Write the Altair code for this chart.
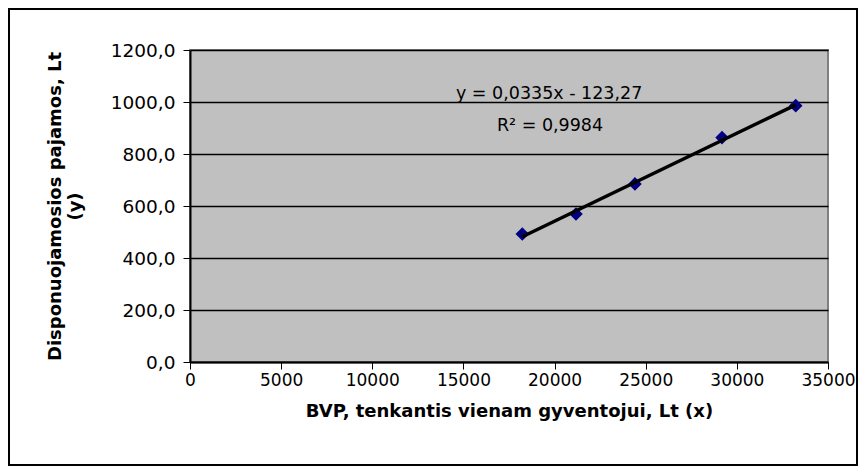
import altair as alt
import pandas as pd

# data
bvp = [18230, 21175, 24410, 29185, 33230]
pajamos = [492.0, 569.0, 685.0, 863.0, 986.0]
eq_text = ["y = 0,0335x - 123,27", "R² = 0,9984"]
eq_x = [19700, 19750]
eq_y = [1031, 908]
x_ticks = [0, 5000, 10000, 15000, 20000, 25000, 30000, 35000]
y_ticks = [0, 200, 400, 600, 800, 1000, 1200]

df = pd.DataFrame({"x": bvp, "y": pajamos})
eq_df = pd.DataFrame({"t": eq_text, "x": eq_x, "y": eq_y})

FONT = "DejaVu Sans"
W, H = 638, 312

xs = alt.Scale(domain=[0, 35000], nice=False, zero=False)
ys = alt.Scale(domain=[0, 1200], nice=False, zero=False)

x_enc = alt.X("x:Q", scale=xs, axis=alt.Axis(
    values=x_ticks, format="d", title="BVP, tenkantis vienam gyventojui, Lt (x)",
    grid=False, tickSize=7, tickColor="black", domainColor="black", domainWidth=2,
    labelFlush=False, labelOverlap=False,
    labelPadding=3, labelFontSize=17, labelFont=FONT, labelColor="black",
    titleFont=FONT, titleFontSize=18, titleFontWeight="bold", titleColor="black",
    titlePadding=14))
y_enc = alt.Y("y:Q", scale=ys, axis=alt.Axis(
    values=y_ticks, labelExpr="replace(format(datum.value, '.1f'), '.', ',')",
    title=["Disponuojamosios pajamos, Lt", "(y)"],
    grid=True, gridColor="black", gridWidth=1.3, gridOpacity=1,
    tickSize=7, tickColor="black", domainColor="black", domainWidth=2,
    labelFlush=False, labelOverlap=False,
    labelPadding=8, labelFontSize=18.5, labelFont=FONT, labelColor="black",
    titleFont=FONT, titleFontSize=18, titleFontWeight="bold", titleColor="black",
    titlePadding=26, titleLineHeight=20))

points = alt.Chart(df).mark_point(shape="diamond", filled=True, fill="#000080",
                                  stroke="#000080", size=115, opacity=1).encode(x=x_enc, y=y_enc)

trend = alt.Chart(df).transform_regression("x", "y").mark_line(
    color="black", strokeWidth=3.5).encode(x=alt.X("x:Q", scale=xs), y=alt.Y("y:Q", scale=ys))

eq = alt.Chart(eq_df).mark_text(font=FONT, fontSize=17.5, color="black",
                                align="center", baseline="middle").encode(
    x=alt.X("x:Q", scale=xs), y=alt.Y("y:Q", scale=ys), text="t:N")

border = alt.Chart(df).mark_rect(fill=None, stroke="black", strokeWidth=2).encode(
    x=alt.value(-181), x2=alt.value(667), y=alt.value(-41), y2=alt.value(415))

chart = alt.layer(points, trend, eq, border).properties(
    width=W, height=H,
    autosize=alt.AutoSizeParams(type="none"),
    padding={"left": 182, "top": 42, "right": 30, "bottom": 104},
    background="white",
).configure_view(fill="#C0C0C0", stroke="#808080", strokeWidth=2)

chart.save("out.html", embed_options={"renderer": "svg", "actions": False})
